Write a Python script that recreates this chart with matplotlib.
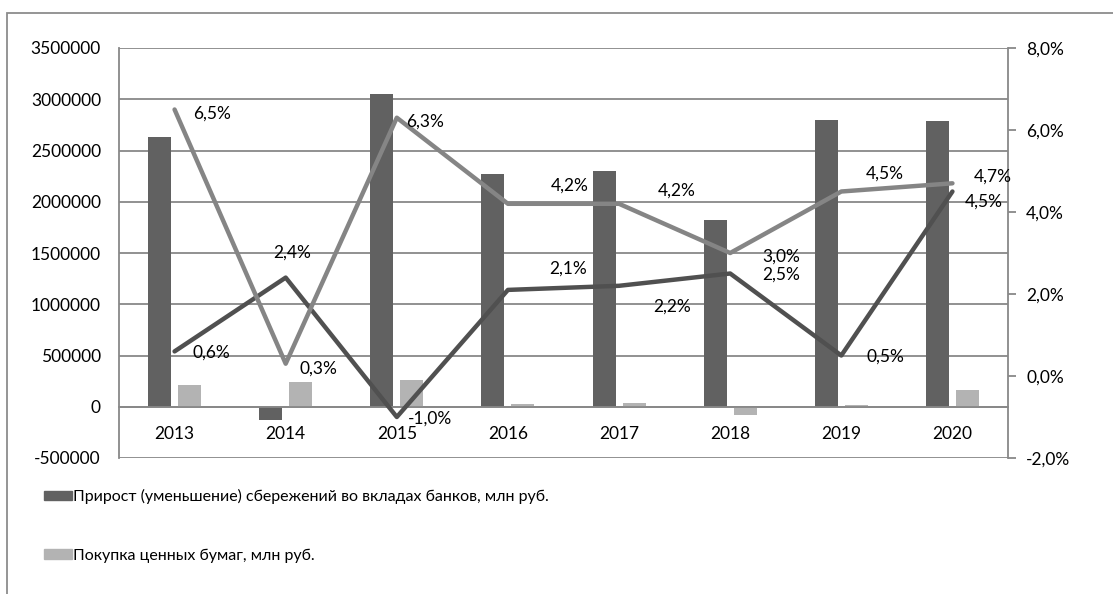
#!/usr/bin/env python3

import matplotlib
matplotlib.use("Agg")
import matplotlib.pyplot as plt
import numpy as np
from matplotlib.patches import Patch, Rectangle
from matplotlib.ticker import FuncFormatter


YEARS = ["2013", "2014", "2015", "2016", "2017", "2018", "2019", "2020"]

# bars, left axis (млн руб.)
deposits = [2632000, -127000, 3053000, 2270000, 2300000, 1820000, 2798000, 2790000]
securities = [215000, 245000, 264000, 30000, 35000, -85000, 15000, 166000]

# lines, right axis (%)
line_dark = [0.6, 2.4, -1.0, 2.1, 2.2, 2.5, 0.5, 4.5]
line_light = [6.5, 0.3, 6.3, 4.2, 4.2, 3.0, 4.5, 4.7]

LEGEND_LABELS = [
    "Прирост (уменьшение) сбережений во вкладах банков, млн руб.",
    "Покупка ценных бумаг, млн руб.",
]

# label offsets in pixels (dx, dy up), per point
OFF_LIGHT = [(37, -4), (33, -5), (28, -4), (62, 18), (58, 13), (51, -4), (43, 18), (40, 7)]
OFF_DARK = [(37, -1), (6, 25), (33, -2), (60, 21), (53, -21), (51, -1), (44, -1), (31, -10)]

C_BAR_DARK = "#616161"
C_BAR_LIGHT = "#b3b3b3"
C_LINE_DARK = "#505050"
C_LINE_LIGHT = "#858585"
C_GRID = "#888888"


def pct(v):
    return f"{v:.1f}%".replace(".", ",")


def main():
    plt.rcParams["font.family"] = ["Lato", "DejaVu Sans"]
    plt.rcParams["font.size"] = 12.5

    fig = plt.figure(figsize=(11.13, 5.94), dpi=100)
    ax = fig.add_axes([119 / 1113, 1 - 458 / 594, 889 / 1113, 410 / 594])

    # outer chart frame
    fig.patches.append(
        Rectangle((7 / 1113, -0.1), 1.2, 1 - 13 / 594 + 0.1, transform=fig.transFigure,
                  fill=False, edgecolor="#8c8c8c", linewidth=1.3)
    )

    x = np.arange(len(YEARS))
    w = 0.207
    ax.bar(x - 0.135, deposits, w, color=C_BAR_DARK, zorder=3)
    ax.bar(x + 0.135, securities, w, color=C_BAR_LIGHT, zorder=3)

    ax.set_xlim(-0.5, len(YEARS) - 0.5)
    ax.set_ylim(-500000, 3500000)
    ax.set_yticks(np.arange(-500000, 3500001, 500000))
    ax.yaxis.set_major_formatter(FuncFormatter(lambda v, p: f"{int(v)}"))
    ax.grid(axis="y", color=C_GRID, linewidth=1.3, zorder=0)
    ax.grid(axis="x", visible=False)
    ax.tick_params(axis="y", length=0, pad=13, labelsize=12.5, colors="black")
    for s in ["top", "right"]:
        ax.spines[s].set_visible(False)
    ax.spines["left"].set_color(C_GRID)
    ax.spines["left"].set_linewidth(1.3)
    ax.spines["bottom"].set_position(("data", 0))
    ax.spines["bottom"].set_color(C_GRID)
    ax.spines["bottom"].set_linewidth(1.3)
    ax.spines["bottom"].set_zorder(4)
    ax.set_xticks(x)
    ax.set_xticklabels(YEARS)
    ax.tick_params(axis="x", length=0, pad=14, labelsize=12.5)

    ax2 = ax.twinx()
    ax2.set_ylim(-2, 8)
    ax2.set_yticks([-2, 0, 2, 4, 6, 8])
    ax2.yaxis.set_major_formatter(FuncFormatter(lambda v, p: pct(v)))
    ax2.tick_params(axis="y", length=6, width=1.3, color=C_GRID, pad=7, labelsize=12.5)
    for s in ["top", "left", "bottom"]:
        ax2.spines[s].set_visible(False)
    ax2.spines["right"].set_color(C_GRID)
    ax2.spines["right"].set_linewidth(1.3)

    ax2.plot(x, line_dark, color=C_LINE_DARK, linewidth=3.2, solid_capstyle="round", zorder=3)
    ax2.plot(x, line_light, color=C_LINE_LIGHT, linewidth=3.2, solid_capstyle="round", zorder=4)

    for xi, v, off in zip(x, line_light, OFF_LIGHT):
        ax2.annotate(pct(v), (xi, v), xytext=off, textcoords="offset pixels",
                     ha="center", va="center", fontsize=12.5, zorder=6)
    for xi, v, off in zip(x, line_dark, OFF_DARK):
        ax2.annotate(pct(v), (xi, v), xytext=off, textcoords="offset pixels",
                     ha="center", va="center", fontsize=12.5, zorder=6)

    handles = [Patch(color=C_BAR_DARK), Patch(color=C_BAR_LIGHT)]
    fig.legend(handles, LEGEND_LABELS, loc="upper left",
               bbox_to_anchor=(38 / 1113, 1 - 483 / 594), frameon=False,
               handlelength=1.75, handleheight=0.5, handletextpad=0.05,
               labelspacing=2.75, fontsize=11.5, borderaxespad=0)

    fig.savefig("out.png", dpi=100)


if __name__ == "__main__":
    main()
